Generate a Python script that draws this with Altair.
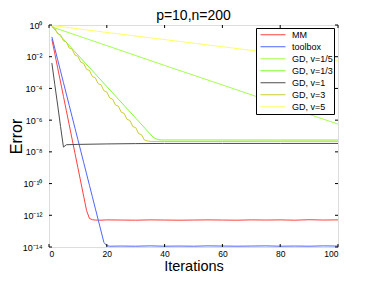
import altair as alt
import pandas as pd

FONT = "Liberation Sans"

series_names = ["MM", "toolbox", "GD, v=1/5", "GD, v=1/3", "GD, v=1", "GD, v=3", "GD, v=5"]
series_colors = ["#ff4040", "#4d66ff", "#a6ff4d", "#80ff33", "#4d4d4d", "#cccc33", "#ffff66"]

# iterations and log10(error)
mm_iter = list(range(1, 17)) + [18, 20, 25, 30, 35, 40, 45, 50, 55, 60, 65, 70, 75, 80, 85, 90, 95, 100]
mm_log = [-0.9, -1.8, -2.7, -3.6, -4.5, -5.4, -6.3, -7.2, -8.1, -9.0, -9.9, -10.8, -11.7, -12.2,
          -12.28, -12.30, -12.31, -12.29, -12.30, -12.31, -12.29, -12.30, -12.31, -12.30, -12.29,
          -12.30, -12.31, -12.29, -12.30, -12.29, -12.31, -12.28, -12.30, -12.29]

tb_iter = list(range(1, 22)) + [25, 30, 35, 40, 45, 50, 55, 60, 65, 70, 75, 80, 85, 90, 95, 100]
tb_log = [-0.75, -1.47, -2.19, -2.91, -3.63, -4.35, -5.07, -5.79, -6.51, -7.23, -7.95, -8.67,
          -9.39, -10.11, -10.83, -11.55, -12.27, -12.99, -13.71, -13.92, -13.95,
          -13.94, -13.95, -13.93, -13.95, -13.94, -13.95, -13.93, -13.94, -13.95, -13.94,
          -13.93, -13.95, -13.94, -13.95, -13.93, -13.94]

v15_iter = [1, 20, 40, 60, 80, 100]
v15_log = [-0.12, -1.30, -2.55, -3.78, -5.02, -6.25]

v13_iter = [1, 10, 20, 30, 35, 36, 37, 38, 39, 40, 60, 80, 100]
v13_log = [-0.10, -1.89, -3.88, -5.87, -6.87, -7.07, -7.18, -7.23, -7.25, -7.25, -7.25, -7.25, -7.25]

v1_iter = [1, 2, 3, 4, 5, 6, 10, 20, 30, 40, 60, 80, 100]
v1_log = [-2.4, -3.75, -5.05, -6.4, -7.7, -7.55, -7.53, -7.50, -7.48, -7.47, -7.47, -7.47, -7.47]

v3_iter = list(range(1, 36)) + [40, 60, 80, 100]
v3_log = [-0.05, -0.20, -0.55, -0.62, -1.00, -1.07, -1.45, -1.52, -1.90, -1.97, -2.35, -2.42,
          -2.80, -2.87, -3.25, -3.32, -3.70, -3.77, -4.15, -4.22, -4.60, -4.67, -5.05, -5.12,
          -5.50, -5.57, -5.95, -6.02, -6.40, -6.47, -6.85, -6.92, -7.25, -7.31, -7.34,
          -7.34, -7.34, -7.33, -7.33]

v5_iter = [1, 20, 40, 60, 80, 100]
v5_log = [-0.03, -0.47, -0.92, -1.37, -1.82, -2.27]

x_tick_values = [0, 20, 40, 60, 80, 100]
y_tick_values = [1, 1e-2, 1e-4, 1e-6, 1e-8, 1e-10, 1e-12, 1e-14]

all_iters = [mm_iter, tb_iter, v15_iter, v13_iter, v1_iter, v3_iter, v5_iter]
all_logs = [mm_log, tb_log, v15_log, v13_log, v1_log, v3_log, v5_log]

rows = []
for name, its, lg in zip(series_names, all_iters, all_logs):
    for i, l in zip(its, lg):
        rows.append({"series": name, "iter": i, "err": 10 ** l})
df = pd.DataFrame(rows)

W, H = 289, 222
x_scale = alt.Scale(domain=[0, 100], nice=False)
y_scale = alt.Scale(type="log", domain=[1e-14, 1], nice=False)

sup = "replace(replace(replace(replace(replace(replace(''+round(log(datum.value)/LN10),'-','⁻'),'0','⁰'),'1','¹'),'2','²'),'4','⁴'),'6','⁶')"
sup = "replace(" + sup + ",'8','⁸')"
label_expr = "'10' + " + sup

x_axis = alt.Axis(values=x_tick_values, title="Iterations", ticks=False, domain=False, grid=False,
                  labelFontSize=8.5, labelPadding=2, labelFont=FONT, labelColor="black",
                  titleFontSize=14.5, titleFontWeight="normal", titleFont=FONT, titleColor="black",
                  titleY=23, titleBaseline="alphabetic")
y_axis = alt.Axis(values=y_tick_values, labelExpr=label_expr, title="Error", ticks=False,
                  domain=False, grid=False, labelFontSize=9, labelPadding=7, labelFont=FONT,
                  labelColor="black", titleFontSize=16, titleFontWeight="normal", titleFont=FONT,
                  titleColor="black", titleX=-28, titleY=H / 2, titleBaseline="alphabetic",
                  titleAlign="center")

lines = alt.Chart(df).mark_line(strokeWidth=1, clip=True).encode(
    x=alt.X("iter:Q", scale=x_scale, axis=x_axis),
    y=alt.Y("err:Q", scale=y_scale, axis=y_axis),
    color=alt.Color("series:N", scale=alt.Scale(domain=series_names, range=series_colors),
                    legend=alt.Legend(orient="none", legendX=207, legendY=3, title=None,
                                      symbolType="stroke", symbolSize=625, symbolStrokeWidth=1,
                                      clipHeight=11.5, symbolOffset=3,
                                      labelFontSize=9, labelFont=FONT, labelColor="black",
                                      strokeColor="black", fillColor="white", padding=1,
                                      rowPadding=0, labelOffset=6)),
)

xt = pd.DataFrame({"iter": x_tick_values})
yt = pd.DataFrame({"err": y_tick_values})

black = alt.value("black")
x_bottom = alt.Chart(xt).mark_rule(strokeWidth=1).encode(
    x=alt.X("iter:Q", scale=x_scale, axis=x_axis), y=alt.value(H), y2=alt.value(H - 3), color=black)
x_top = alt.Chart(xt).mark_rule(strokeWidth=1).encode(
    x=alt.X("iter:Q", scale=x_scale, axis=x_axis), y=alt.value(0), y2=alt.value(3), color=black)
y_left = alt.Chart(yt).mark_rule(strokeWidth=1).encode(
    y=alt.Y("err:Q", scale=y_scale, axis=y_axis), x=alt.value(0), x2=alt.value(3), color=black)
y_right = alt.Chart(yt).mark_rule(strokeWidth=1).encode(
    y=alt.Y("err:Q", scale=y_scale, axis=y_axis), x=alt.value(W - 3), x2=alt.value(W), color=black)

chart = alt.layer(lines, x_bottom, x_top, y_left, y_right).properties(
    width=W, height=H,
    autosize=alt.AutoSizeParams(type="none"),
    padding={"left": 41, "top": 17, "right": 20, "bottom": 26},
    title=alt.Title("p=10,n=200", fontSize=14, font=FONT, fontWeight="normal", color="black",
                    offset=1, dy=3),
).configure_view(stroke="black", strokeWidth=1).configure(background="white")

chart.save("out.html", embed_options={"renderer": "svg", "actions": False})
